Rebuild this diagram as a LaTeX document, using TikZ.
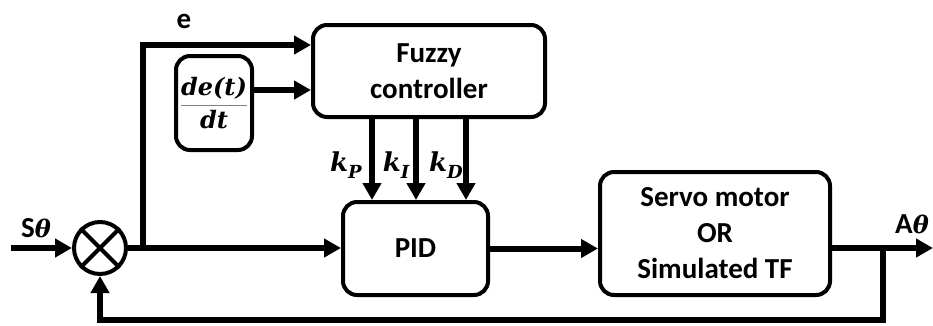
\documentclass[tikz,border=0pt]{standalone}
\usepackage{fontspec}
\setmainfont{Carlito}
\newfontfamily\dvserif{DejaVu Serif}
\newcommand{\bmi}{\dvserif\bfseries\itshape}
\usepackage{amsmath}
\usetikzlibrary{arrows.meta,calc}
\newcommand{\kgain}[1]{{\bmi k\raisebox{-0.28em}{\fontsize{18}{20}\selectfont #1}}}
\newcommand{\thet}{{\fontsize{24}{26}\selectfont\bmi θ}}
\begin{document}
\begin{tikzpicture}[x=1pt,y=-1pt,
 blk/.style={draw,line width=4pt,rounded corners=14pt,font=\fontsize{29}{36}\selectfont\bfseries,align=center,inner sep=0pt},
 sig/.style={line width=6pt,-{Triangle[length=17pt,width=18pt]}},
 lbl/.style={font=\fontsize{29}{30}\selectfont\bfseries,inner sep=0pt},
 gain/.style={font=\fontsize{26}{30}\selectfont,inner sep=0pt}]
\useasboundingbox (0,0) rectangle (933,325);
\node[blk,minimum width=232pt,minimum height=92pt] (fuzzy) at (429,71) {Fuzzy\\controller};
\node[blk,minimum width=76pt,minimum height=94pt] (dedt) at (214,103) {\fontsize{24}{28}\selectfont\color{gray}$\displaystyle\genfrac{}{}{1.2pt}{0}{\text{\color{black}\bmi de(t)}}{\text{\color{black}\bmi dt}}$};
\node[blk,minimum width=145pt,minimum height=93pt] (pid) at (415.5,248.5) {PID};
\node[blk,minimum width=230pt,minimum height=123pt] (servo) at (715,233.5) {Servo motor\\OR\\Simulated TF};
\node[draw,circle,line width=4pt,minimum size=52pt,inner sep=0pt] (sum) at (100,248) {};
\draw[line width=4pt] (sum.north west) -- (sum.south east) (sum.north east) -- (sum.south west);
% labels
\node[lbl] (elbl) at (184,21) {e};
\node[lbl] (slbl) at (36,228) {S\thet};
\node[lbl] (albl) at (912,224) {A\thet};
\node[gain] (kp) at (346,165) {\kgain{P}};
\node[gain] (ki) at (396,165) {\kgain{I}};
\node[gain] (kd) at (446,165) {\kgain{D}};
% connectors
\coordinate (in) at (11,248);
\coordinate (br) at (143,248);
\coordinate (etop) at (143,45);
\coordinate (fb) at (883,248);
\coordinate (fbl) at (883,320);
\coordinate (out) at (933,248);
\draw[sig] (in) -- (sum.west);
\draw[sig] (sum.east) -- (sum.east -| pid.west);
\draw[sig] (br) -- (etop) -- (etop -| fuzzy.west);
\draw[sig] (dedt.east |- 0,90) -- (fuzzy.west |- 0,90);
\foreach \x in {372,416,466} \draw[sig] (fuzzy.south -| \x,0) -- (pid.north -| \x,0);
\draw[sig] (pid.east) -- (pid.east -| servo.west);
\draw[sig] (servo.east |- out) -- (out);
\draw[sig] (fb) -- (fbl) -| (sum.south);
\end{tikzpicture}
\end{document}
